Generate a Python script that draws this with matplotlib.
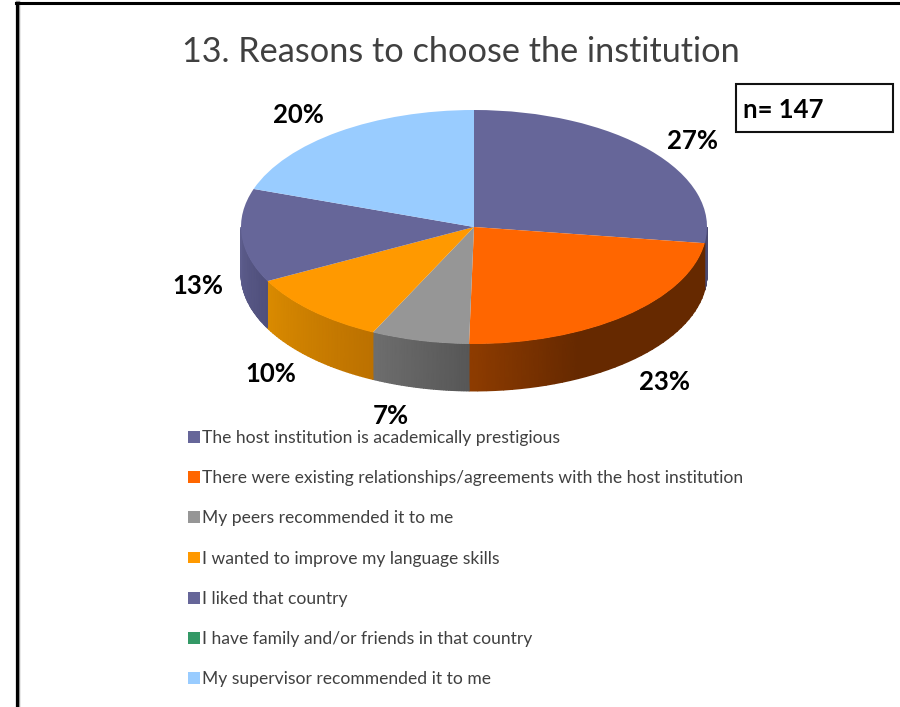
import numpy as np
import matplotlib
matplotlib.use('Agg')
import matplotlib.pyplot as plt
from matplotlib.colors import LinearSegmentedColormap
from matplotlib.lines import Line2D
from matplotlib.patches import Rectangle

plt.rcParams['font.family'] = ['Lato', 'DejaVu Sans']

title = '13. Reasons to choose the institution'
categories = ['The host institution is academically prestigious',
              'There were existing relationships/agreements with the host institution',
              'My peers recommended it to me',
              'I wanted to improve my language skills',
              'I liked that country',
              'I have family and/or friends in that country',
              'My supervisor recommended it to me']
# counts out of n=147, they fit both the slice edges and the printed percents
values = [40, 34, 10, 15, 19, 0, 29]
colors = ['#666699', '#FF6600', '#969696', '#FF9900', '#666699', '#339966', '#99CCFF']
# side wall shading for each slice, going clockwise
wall_colors = [['#4A4A72', '#4A4A72'],
               ['#662900', '#662900', '#662900', '#8E3C00'],
               ['#575757', '#6E6E6E'],
               ['#BC7100', '#DA8B00'],
               ['#50507C', '#5E5E8E'],
               ['#267350', '#267350'],
               ['#7399BF', '#7399BF']]

W, H = 900, 707
fig = plt.figure(figsize=(W / 100, H / 100), dpi=100)
ax = fig.add_axes([0, 0, 1, 1])

wedges, _ = ax.pie(values, colors=colors, startangle=90, counterclock=False,
                   labels=categories, labeldistance=None,
                   wedgeprops={'linewidth': 0, 'zorder': 3})

# ellipse on the page: centre (474, 227), radii 233 x 117, wall 47 px
cx, cy, rx, ry, depth = 474, 227, 233, 117, 47 / 117
ax.set_aspect('auto')
ax.set_xlim(-cx / rx, (W - cx) / rx)
ax.set_ylim((cy - H) / ry, cy / ry)
ax.axis('off')


def px(x, y):
    return (x - cx) / rx, (cy - y) / ry


# walls, only the front half of the pie shows
total = sum(values)
edges = 90 - 360 * np.concatenate([[0], np.cumsum(values)]) / total
for i in range(len(values)):
    lo, hi = max(edges[i + 1], -180), min(edges[i], 0)
    if hi <= lo:
        continue
    t = np.radians(np.linspace(hi, lo, 40))
    X = np.vstack([np.cos(t), np.cos(t)])
    Y = np.vstack([np.sin(t), np.sin(t) - depth])
    C = np.vstack([np.linspace(0, 1, 40)] * 2)
    cmap = LinearSegmentedColormap.from_list('w%d' % i, wall_colors[i])
    ax.pcolormesh(X, Y, C, cmap=cmap, shading='gouraud', vmin=0, vmax=1, zorder=2)

# percent labels
label_pos = [(692, 141), (665, 382), (391, 415.5), (271, 374), (198, 286), None, (298, 115)]
for v, pos in zip(values, label_pos):
    if pos is None:
        continue
    x, y = px(*pos)
    ax.text(x, y, '%d%%' % round(100 * v / total), fontsize=18.5, fontweight='bold',
            color='black', ha='center', va='center', zorder=5)

fig.text(461 / W, 1 - 51.5 / H, title, fontsize=24.65, color='#404040',
         ha='center', va='center')

# n box
fig.add_artist(Rectangle((736 / W, 1 - 132 / H), 157 / W, 48 / H, transform=fig.transFigure,
                         facecolor='white', edgecolor='#111111', linewidth=1.5))
fig.text(743 / W, 1 - 110 / H, 'n= 147', fontsize=18.5, fontweight='bold',
         color='black', ha='left', va='center')

# slide border
fig.add_artist(Line2D([17.5 / W, 17.5 / W], [0, 1 - 3 / H], color='#999999', lw=3.2))
fig.add_artist(Line2D([16.8 / W, 16.8 / W], [0, 1 - 3 / H], color='black', lw=2.2))
fig.add_artist(Line2D([16 / W, 1], [1 - 3 / H, 1 - 3 / H], color='black', lw=2.2))

leg = ax.legend(handles=wedges, labels=categories, loc='upper left',
                bbox_to_anchor=(181 / W, 1 - 423 / H), bbox_transform=fig.transFigure,
                frameon=False, fontsize=12.6, labelcolor='#404040',
                handlelength=0.66, handleheight=0.66, handletextpad=0.15,
                labelspacing=1.385, borderpad=0.4, borderaxespad=0)

fig.savefig('out.png', dpi=100)
